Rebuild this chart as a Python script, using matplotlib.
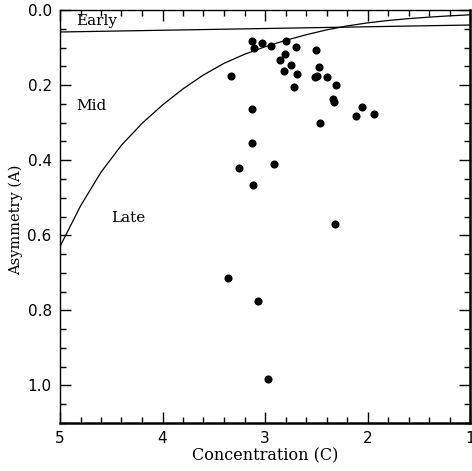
import matplotlib
matplotlib.use("Agg")
import matplotlib.pyplot as plt
from matplotlib.ticker import MultipleLocator

# Galaxy measurements: concentration (C) and asymmetry (A)
conc = [3.130, 3.104, 3.026, 2.944, 2.798, 2.698, 2.805, 2.857, 2.749, 2.815,
        2.688, 2.714, 2.505, 2.473, 2.512, 2.493, 2.395, 2.304, 2.337, 2.327,
        2.057, 2.112, 1.937, 2.463, 3.124, 3.127, 3.251, 2.915, 3.120, 2.320,
        3.335, 3.364, 3.068, 2.968]
asym = [0.0825, 0.1003, 0.0886, 0.0958, 0.0833, 0.0977, 0.1171, 0.1323, 0.1472, 0.1632,
        0.1703, 0.2042, 0.1065, 0.1517, 0.1791, 0.1757, 0.1775, 0.1988, 0.2377, 0.2457,
        0.2574, 0.2813, 0.2776, 0.3016, 0.2635, 0.3548, 0.4197, 0.4107, 0.4666, 0.5688,
        0.1765, 0.7125, 0.7746, 0.9840]

# Early / Mid boundary (straight line), read at its end points
early_c = [5.0, 1.0]
early_a = [0.0586, 0.0400]

# Mid / Late boundary
mid_c = [5.0, 4.8, 4.6, 4.4, 4.2, 4.0, 3.8, 3.6, 3.4, 3.2, 3.0,
         2.8, 2.6, 2.4, 2.2, 2.0, 1.8, 1.6, 1.4, 1.2, 1.0]
mid_a = [0.630, 0.522, 0.432, 0.360, 0.302, 0.253, 0.210, 0.173, 0.142, 0.118, 0.098,
         0.081, 0.066, 0.053, 0.0425, 0.0343, 0.028, 0.023, 0.019, 0.0156, 0.0128]

region_labels = ["Early", "Mid", "Late"]
region_pos = [(4.84, 0.030), (4.84, 0.255), (4.50, 0.555)]

fig = plt.figure(figsize=(4.72, 4.71), dpi=100)
ax = fig.add_axes([60/472, 1-423/471, 410/472, 413/471])

ax.plot(early_c, early_a, color="black", lw=0.9)
ax.plot(mid_c, mid_a, color="black", lw=0.9)
ax.scatter(conc, asym, s=34, color="black", zorder=3, linewidths=0)

serif = ["DejaVu Serif"]
for lab, (x, y) in zip(region_labels, region_pos):
    ax.text(x, y, lab, fontsize=11, family=serif, ha="left", va="center")

ax.set_xlim(5, 1)
ax.set_ylim(1.1, 0.0)

ax.xaxis.set_major_locator(MultipleLocator(1))
ax.xaxis.set_minor_locator(MultipleLocator(0.2))
ax.yaxis.set_major_locator(MultipleLocator(0.2))
ax.yaxis.set_minor_locator(MultipleLocator(0.05))
ax.yaxis.set_major_formatter(plt.FuncFormatter(lambda v, p: f"{v:.1f}"))
ax.xaxis.set_major_formatter(plt.FuncFormatter(lambda v, p: f"{v:.0f}"))

ax.tick_params(which="both", direction="in", top=True, right=True, width=1.0)
ax.tick_params(which="major", length=8, labelsize=11, pad=6)
ax.tick_params(which="minor", length=4)

for side in ["left", "top"]:
    ax.spines[side].set_linewidth(1.0)
for side in ["bottom", "right"]:
    ax.spines[side].set_linewidth(1.8)

ax.set_xlabel("Concentration (C)", fontsize=11.5, family=serif)
ax.set_ylabel("Asymmetry (A)", fontsize=10.5, family=serif)
ax.xaxis.set_label_coords(0.5, -0.060)
ax.yaxis.set_label_coords(-0.090, 0.493)

fig.savefig("out.png", dpi=100)
